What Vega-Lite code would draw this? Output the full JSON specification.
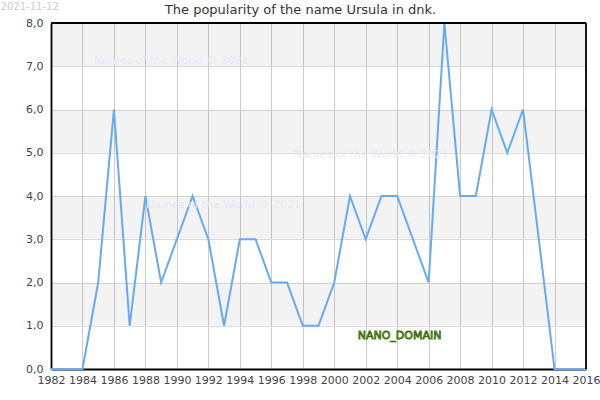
{
  "$schema": "https://vega.github.io/schema/vega-lite/v6.json",
  "autosize": {"type": "none"},
  "width": 535,
  "height": 346,
  "padding": {"left": 51, "top": 23, "right": 14, "bottom": 31},
  "background": "white",
  "title": {"text": "The popularity of the name Ursula in dnk.", "anchor": "middle", "dx": -18, "offset": 0, "dy": 15, "font": "DejaVu Sans", "fontSize": 13, "fontWeight": "normal", "color": "#333333"},
  "config": {
    "view": {"stroke": null},
    "axis": {"labelFont": "DejaVu Sans", "labelFontSize": 11, "labelColor": "#444444", "ticks": false, "domain": true, "domainColor": "black", "domainWidth": 1.8, "title": null, "labelOverlap": false, "labelFlush": false, "zindex": 0}
  },
  "datasets": {
    "pop": [
      {"year": 1982, "value": 0}, {"year": 1983, "value": 0}, {"year": 1984, "value": 0},
      {"year": 1985, "value": 2}, {"year": 1986, "value": 6}, {"year": 1987, "value": 1},
      {"year": 1988, "value": 4}, {"year": 1989, "value": 2}, {"year": 1990, "value": 3},
      {"year": 1991, "value": 4}, {"year": 1992, "value": 3}, {"year": 1993, "value": 1},
      {"year": 1994, "value": 3}, {"year": 1995, "value": 3}, {"year": 1996, "value": 2},
      {"year": 1997, "value": 2}, {"year": 1998, "value": 1}, {"year": 1999, "value": 1},
      {"year": 2000, "value": 2}, {"year": 2001, "value": 4}, {"year": 2002, "value": 3},
      {"year": 2003, "value": 4}, {"year": 2004, "value": 4}, {"year": 2005, "value": 3},
      {"year": 2006, "value": 2}, {"year": 2007, "value": 8}, {"year": 2008, "value": 4},
      {"year": 2009, "value": 4}, {"year": 2010, "value": 6}, {"year": 2011, "value": 5},
      {"year": 2012, "value": 6}, {"year": 2013, "value": 3}, {"year": 2014, "value": 0},
      {"year": 2015, "value": 0}, {"year": 2016, "value": 0}
    ],
    "bands": [
      {"lo": 1, "hi": 2, "a": 1982, "b": 2016}, {"lo": 3, "hi": 4, "a": 1982, "b": 2016},
      {"lo": 5, "hi": 6, "a": 1982, "b": 2016}, {"lo": 7, "hi": 8, "a": 1982, "b": 2016}
    ],
    "frame": [
      {"a": 1982, "b": 2016, "lo": 8, "hi": 8},
      {"a": 2016, "b": 2016, "lo": 0, "hi": 8}
    ],
    "marks": [
      {"year": 1984.73, "value": 7.12, "label": "Names of the World © 2021"},
      {"year": 1997.44, "value": 4.95, "label": "Names of the World © 2021"},
      {"year": 1988.04, "value": 3.79, "label": "Names of the World © 2021"}
    ],
    "nano": [{"year": 2004.15, "value": 0.76, "label": "NANO_DOMAIN"}],
    "date": [{"year": 1978.8, "value": 8.38, "label": "2021-11-12"}]
  },
  "encoding": {
    "x": {"type": "quantitative",
          "scale": {"domain": [1982, 2016], "nice": false, "zero": false},
          "axis": {"values": [1982,1984,1986,1988,1990,1992,1994,1996,1998,2000,2002,2004,2006,2008,2010,2012,2014,2016],
                   "tickCount": 40, "format": "d", "grid": true, "gridColor": "#cccccc", "gridWidth": 1, "labelPadding": 5, "labelOverlap": false, "labelFlush": false, "labelBound": false}},
    "y": {"type": "quantitative",
          "scale": {"domain": [0, 8], "nice": false},
          "axis": {"values": [0,1,2,3,4,5,6,7,8], "tickCount": 20, "grid": true, "gridColor": "#dddddd", "gridWidth": 1,
                   "labelExpr": "replace(format(datum.value, '.1f'), '.', ',')", "labelPadding": 8}}
  },
  "layer": [
    {
      "data": {"name": "bands"},
      "mark": {"type": "rect", "color": "#000000", "opacity": 0.047},
      "encoding": {
        "x": {"field": "a"},
        "x2": {"field": "b"},
        "y": {"field": "lo"},
        "y2": {"field": "hi"}
      }
    },
    {
      "data": {"name": "pop"},
      "mark": {"type": "line", "color": "#66aaf2", "strokeWidth": 2},
      "encoding": {
        "x": {"field": "year"},
        "y": {"field": "value"}
      }
    },
    {
      "data": {"name": "marks"},
      "mark": {"type": "text", "align": "left", "baseline": "middle", "font": "DejaVu Sans", "fontSize": 11, "color": "#e8e8f6"},
      "encoding": {
        "x": {"field": "year"},
        "y": {"field": "value"},
        "text": {"field": "label"}
      }
    },
    {
      "data": {"name": "nano"},
      "mark": {"type": "text", "align": "center", "baseline": "middle", "font": "DejaVu Sans", "fontSize": 11, "color": "#99cc33", "stroke": "#3a6b10", "strokeWidth": 0.8},
      "encoding": {
        "x": {"field": "year"},
        "y": {"field": "value"},
        "text": {"field": "label"}
      }
    },
    {
      "data": {"name": "date"},
      "mark": {"type": "text", "align": "left", "baseline": "middle", "font": "DejaVu Sans", "fontSize": 10, "color": "#cccccc", "clip": false},
      "encoding": {
        "x": {"field": "year"},
        "y": {"field": "value"},
        "text": {"field": "label"}
      }
    },
    {
      "data": {"name": "frame"},
      "mark": {"type": "rule", "color": "black", "strokeWidth": 1.8},
      "encoding": {
        "x": {"field": "a"},
        "x2": {"field": "b"},
        "y": {"field": "lo"},
        "y2": {"field": "hi"}
      }
    }
  ]
}
